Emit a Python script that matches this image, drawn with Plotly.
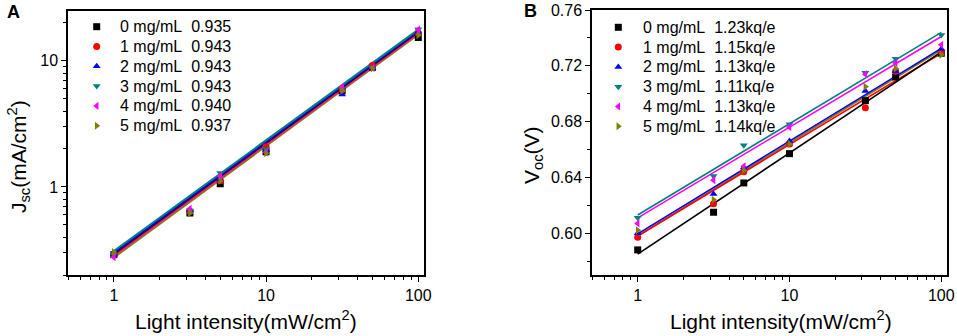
import plotly.graph_objects as go
import math

# ---------------- data ----------------
intensity = [1, 3.16, 5, 10, 31.6, 50, 100]
fit_x = [1, 100]

labels = ["0 mg/mL", "1 mg/mL", "2 mg/mL", "3 mg/mL", "4 mg/mL", "5 mg/mL"]
jsc_slopes = ["0.935", "0.943", "0.943", "0.943", "0.940", "0.937"]
voc_slopes = ["1.23kq/e", "1.15kq/e", "1.13kq/e", "1.11kq/e", "1.13kq/e", "1.14kq/e"]

# Jsc (mA/cm2) measured points
jsc_0 = [0.29, 0.62, 1.06, 1.90, 5.8, 8.9, 15.3]
jsc_1 = [0.29, 0.64, 1.12, 2.08, 5.9, 9.2, 16.6]
jsc_2 = [0.29, 0.66, 1.15, 1.95, 5.4, 8.8, 17.0]
jsc_3 = [0.29, 0.65, 1.29, 2.00, 6.0, 8.9, 17.8]
jsc_4 = [0.277, 0.67, 1.22, 1.88, 6.2, 8.8, 17.7]
jsc_5 = [0.304, 0.62, 1.12, 1.85, 5.8, 8.7, 16.0]

# Jsc fitted lines (values at 1 and 100 mW/cm2)
jsc_fit_0 = [0.295, 17.0]
jsc_fit_1 = [0.29, 16.8]
jsc_fit_2 = [0.30, 17.3]
jsc_fit_3 = [0.31, 17.7]
jsc_fit_4 = [0.285, 16.6]
jsc_fit_5 = [0.275, 16.2]

# Voc (V) measured points
voc_0 = [0.588, 0.615, 0.636, 0.657, 0.695, 0.712, 0.729]
voc_1 = [0.597, 0.621, 0.644, 0.664, 0.690, 0.716, 0.730]
voc_2 = [0.600, 0.628, 0.647, 0.666, 0.702, 0.716, 0.732]
voc_3 = [0.611, 0.641, 0.663, 0.678, 0.715, 0.725, 0.742]
voc_4 = [0.607, 0.638, 0.648, 0.676, 0.714, 0.722, 0.735]
voc_5 = [0.602, 0.624, 0.645, 0.664, 0.705, 0.718, 0.728]

# Voc fitted lines (values at 1 and 100 mW/cm2)
voc_fit_0 = [0.585, 0.730]
voc_fit_1 = [0.598, 0.729]
voc_fit_2 = [0.5995, 0.7325]
voc_fit_3 = [0.613, 0.744]
voc_fit_4 = [0.611, 0.741]
voc_fit_5 = [0.598, 0.7315]

# ---------------- styling ----------------
colors = ["#000000", "#FF0000", "#0000FF", "#008080", "#FF00FF", "#808000"]
symbols = ["square", "circle", "triangle-up", "triangle-down", "triangle-left", "triangle-right"]
FONT = "Arial, Liberation Sans, sans-serif"
NBSP = "\u00a0"

W, H = 957, 336
def px(x):
    return x / W
def py(y):
    return 1 - y / H

jsc_pts = [jsc_0, jsc_1, jsc_2, jsc_3, jsc_4, jsc_5]
jsc_fits = [jsc_fit_0, jsc_fit_1, jsc_fit_2, jsc_fit_3, jsc_fit_4, jsc_fit_5]
voc_pts = [voc_0, voc_1, voc_2, voc_3, voc_4, voc_5]
voc_fits = [voc_fit_0, voc_fit_1, voc_fit_2, voc_fit_3, voc_fit_4, voc_fit_5]

fig = go.Figure()

line_order = [5, 4, 1, 0, 2, 3]
for i in line_order:
    fig.add_trace(go.Scatter(x=fit_x, y=jsc_fits[i], mode="lines",
                             line=dict(color=colors[i], width=2), showlegend=False,
                             xaxis="x", yaxis="y", hoverinfo="skip"))
for i in line_order:
    fig.add_trace(go.Scatter(x=fit_x, y=voc_fits[i], mode="lines",
                             line=dict(color=colors[i], width=1.6), showlegend=False,
                             xaxis="x2", yaxis="y2", hoverinfo="skip"))

for i in range(6):
    fig.add_trace(go.Scatter(x=intensity, y=jsc_pts[i], mode="markers",
                             marker=dict(symbol=symbols[i], color=colors[i], size=7),
                             name=labels[i] + NBSP * 2 + jsc_slopes[i], showlegend=False,
                             xaxis="x", yaxis="y"))
for i in range(6):
    fig.add_trace(go.Scatter(x=intensity, y=voc_pts[i], mode="markers",
                             marker=dict(symbol=symbols[i], color=colors[i], size=7),
                             name=labels[i] + NBSP * 2 + voc_slopes[i], showlegend=False,
                             xaxis="x2", yaxis="y2"))

# ---------------- legends (drawn in a pixel-coordinate overlay) ----------------
leg_rows_a = [26.7, 46.5, 66.3, 86.1, 105.9, 125.7]
leg_rows_b = [27.3, 47.1, 66.9, 86.7, 106.5, 126.3]
leg_sym_x_a, leg_txt_x_a = 96.7, 117.5
leg_sym_x_b, leg_txt_x_b = 618.3, 641.0

fig.add_trace(go.Scatter(x=[leg_sym_x_a] * 6 + [leg_sym_x_b] * 6, y=leg_rows_a + leg_rows_b,
                         mode="markers", showlegend=False, hoverinfo="skip",
                         marker=dict(symbol=symbols * 2, color=colors * 2, size=7),
                         xaxis="x3", yaxis="y3"))

annotations = []
for i in range(6):
    annotations.append(dict(text=labels[i] + NBSP * 2 + jsc_slopes[i], x=leg_txt_x_a, y=leg_rows_a[i],
                            xref="x3", yref="y3", xanchor="left", yanchor="middle", showarrow=False,
                            font=dict(family=FONT, size=16, color="black")))
    annotations.append(dict(text=labels[i] + NBSP * 2 + voc_slopes[i], x=leg_txt_x_b, y=leg_rows_b[i],
                            xref="x3", yref="y3", xanchor="left", yanchor="middle", showarrow=False,
                            font=dict(family=FONT, size=16, color="black")))

annotations += [
    dict(text="<b>A</b>", x=13, y=12, xref="x3", yref="y3", xanchor="center", yanchor="middle",
         showarrow=False, font=dict(family=FONT, size=18, color="black")),
    dict(text="<b>B</b>", x=530, y=11, xref="x3", yref="y3", xanchor="center", yanchor="middle",
         showarrow=False, font=dict(family=FONT, size=18, color="black")),
    dict(text="Light intensity(mW/cm<sup>2</sup>)", x=246, y=320, xref="x3", yref="y3",
         xanchor="center", yanchor="middle", showarrow=False,
         font=dict(family=FONT, size=21, color="black")),
    dict(text="Light intensity(mW/cm<sup>2</sup>)", x=781, y=320, xref="x3", yref="y3",
         xanchor="center", yanchor="middle", showarrow=False,
         font=dict(family=FONT, size=21, color="black")),
    dict(text="J<sub>sc</sub>(mA/cm<sup>2</sup>)", x=18, y=157, xref="x3", yref="y3",
         xanchor="center", yanchor="middle", showarrow=False, textangle=-90,
         font=dict(family=FONT, size=21, color="black")),
    dict(text="V<sub>oc</sub>(V)", x=533, y=155, xref="x3", yref="y3",
         xanchor="center", yanchor="middle", showarrow=False, textangle=-90,
         font=dict(family=FONT, size=21, color="black")),
]

xrange_log = [math.log10(0.5), math.log10(109)]
common_axis = dict(showline=True, linecolor="black", linewidth=1.5, mirror=True,
                   ticks="outside", ticklen=5, tickwidth=1.3, tickcolor="black",
                   showgrid=False, zeroline=False, automargin=False,
                   tickfont=dict(family=FONT, size=16, color="black"))
log_minor = dict(ticks="outside", ticklen=3, tickwidth=1.2, tickcolor="black", showgrid=False)

fig.update_layout(
    width=W, height=H, autosize=False,
    margin=dict(l=0, r=0, t=0, b=0, pad=0),
    paper_bgcolor="white", plot_bgcolor="rgba(0,0,0,0)",
    showlegend=False,
    xaxis=dict(type="log", range=xrange_log, domain=[px(68), px(424)], anchor="y",
               dtick=1, minor=log_minor, **common_axis),
    yaxis=dict(type="log", range=[math.log10(0.2), math.log10(25)],
               domain=[py(275), py(10.7)], anchor="x",
               tickvals=[1, 10], ticktext=["1", "10"],
               minor=dict(log_minor, tickvals=[0.2, 0.3, 0.4, 0.5, 0.6, 0.7, 0.8, 0.9,
                                               2, 3, 4, 5, 6, 7, 8, 9, 20]),
               **common_axis),
    xaxis2=dict(type="log", range=xrange_log, domain=[px(592), px(947)], anchor="y2",
                dtick=1, minor=log_minor, **common_axis),
    yaxis2=dict(range=[0.57, 0.76], domain=[py(275), py(10)], anchor="x2",
                tickvals=[0.60, 0.64, 0.68, 0.72, 0.76], tickformat=".2f",
                minor=dict(ticks="outside", ticklen=3, tickwidth=1.2, tickcolor="black",
                           tickvals=[0.58, 0.62, 0.66, 0.70, 0.74], showgrid=False),
                **common_axis),
    xaxis3=dict(range=[0, W], domain=[0, 1], anchor="y3", visible=False, fixedrange=True),
    yaxis3=dict(range=[H, 0], domain=[0, 1], anchor="x3", visible=False, fixedrange=True),
    annotations=annotations,
)

fig.write_html("out.html", config={"displayModeBar": False},
               post_script="document.body.style.margin='0';document.body.style.overflow='hidden';")
